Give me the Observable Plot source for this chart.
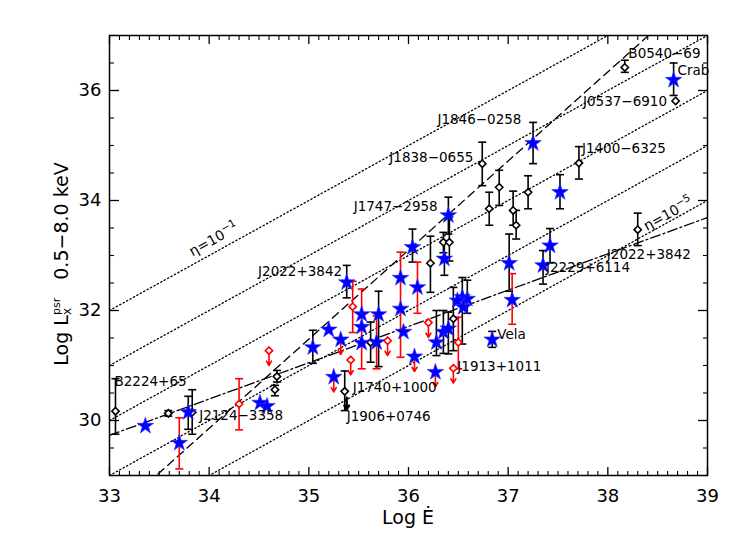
<!DOCTYPE html>
<html><head><meta charset="utf-8">
<script src="https://cdn.jsdelivr.net/npm/d3@7"></script>
<script src="https://cdn.jsdelivr.net/npm/@observablehq/plot@0.6"></script>
<style>body{margin:0;background:#fff;} svg{display:block}</style>
</head><body><div id="chart"></div>
<script>
// ---------- data ----------
const xTickLabels = [33, 34, 35, 36, 37, 38, 39];
const yTickLabels = [30, 32, 34, 36];
const etaExponents = [-1, -2, -3, -4, -5];          // L = eta * Edot
const dashedFit = [1.62, 33.47, 29.0];             // slope, x0, y0
const dashDotFit = [0.66, 33.0, 29.73];            // slope, x0, y0

// black diamonds: [logEdot, logLx, lo, hi]
const blackDiamonds = [
  [33.06,30.17,29.75,30.76],[33.59,30.13,30.08,30.18],[33.83,30.15,29.75,30.56],
  [34.66,30.56,30.45,30.64],[34.68,30.80,30.70,30.91],[35.36,30.53,30.18,30.90],
  [35.62,31.42,31.06,31.79],[36.22,32.86,32.33,33.35],[36.35,33.24,33.05,33.42],
  [36.41,33.24,32.90,33.70],[36.45,31.85,31.27,32.42],[36.74,34.67,34.27,35.06],
  [36.81,33.85,33.55,34.15],[36.91,34.24,33.91,34.55],[37.05,33.82,33.55,34.17],
  [37.08,33.55,33.30,33.82],[37.20,34.15,33.85,34.45],[37.71,34.68,34.39,34.98],
  [38.17,36.42,36.33,36.55],[38.30,33.47,33.18,33.77],[38.68,35.81,null,null]
];
// red diamonds with error bars
const redDiamonds = [[34.30,30.30,29.83,30.76],[35.44,32.07,31.60,32.53],[36.50,31.42,30.94,31.88]];
// red diamonds, upper limits
const redLimits = [[34.60,31.27],[35.42,31.10],[35.79,31.45],[36.20,31.78],[36.45,30.95]];
// blue stars with black error bars
const starsBlackErr = [
  [33.79,30.15,29.84,30.44],[35.04,31.33,31.04,31.64],[35.38,32.51,32.23,32.82],
  [35.70,31.93,30.98,32.35],[36.04,33.15,32.88,33.48],[36.40,33.73,33.39,34.06],
  [36.36,32.94,32.64,33.27],[36.28,31.42,31.18,32.00],[36.35,31.61,31.22,32.00],
  [36.40,31.67,31.21,31.97],[36.54,32.24,31.39,32.60],[36.59,32.21,31.95,32.55],
  [36.84,31.47,31.33,31.62],[37.01,32.86,32.35,33.39],[37.25,35.04,34.67,35.42],
  [37.35,32.82,32.48,33.09],[37.42,33.18,32.87,33.49],[37.52,34.15,33.85,34.47],
  [38.66,36.19,35.91,36.50]
];
// blue stars with red error bars
const starsRedErr = [
  [33.70,29.59,29.12,30.05],[35.53,31.93,30.94,32.39],[35.68,31.42,30.94,31.90],
  [35.92,32.59,31.15,33.06],[36.09,32.42,31.95,32.88],[37.04,32.19,31.75,32.67]
];
// blue stars without error bars
const starsPlain = [[33.36,29.90],[34.51,30.32],[34.58,30.26],[35.20,31.65],[35.53,31.70],
  [35.53,31.41],[35.92,32.03],[35.95,31.61],[36.49,32.18],[36.55,32.06]];
// blue stars that are red upper limits
const starsRedLimit = [[35.25,30.79],[35.32,31.47],[36.06,31.16],[36.27,30.88]];
// black upper limit
const blackLimits = [[35.38,30.45]];

// labels: [text, logEdot, logLx, anchor]
const pulsarLabels = [
  ["B0540−69",38.206,36.67,"start"],["Crab",38.70,36.36,"start"],["J0537−6910",38.594,35.79,"end"],
  ["J1846−0258",36.29,35.47,"start"],["J1838−0655",36.651,34.78,"end"],["J1400−6325",37.74,34.95,"start"],
  ["J1747−2958",35.45,33.88,"start"],["J2022+3842",35.334,32.70,"end"],["J2022+3842",37.99,33.02,"start"],
  ["J2229+6114",37.38,32.78,"start"],["Vela",36.89,31.56,"start"],["J1913+1011",36.49,30.97,"start"],
  ["J1740+1000",35.44,30.60,"start"],["J1906+0746",35.38,30.07,"start"],["J2124−3358",33.90,30.08,"start"],
  ["B2224+65",33.05,30.71,"start"]
];
const etaLabels = [["η=10", "−1", 34.05, 33.29], ["η=10", "−5", 38.61, 33.75]];

// ---------- derived tables ----------
const xDomain = [33, 39], yDomain = [29, 37];
const etaLines = etaExponents.flatMap(e => xDomain.map(x => ({x, y: x + e, e})));
const fitLine = (f, name) => xDomain.map(x => ({x, y: f[2] + f[0] * (x - f[1]), name}));
const dashed = fitLine(dashedFit, "dashed");
const dashDot = fitLine(dashDotFit, "dashdot");

const row = (a, color) => ({x: a[0], y: a[1], lo: a[2], hi: a[3], color});
const errRows = [
  ...blackDiamonds.filter(a => a[2] != null).map(a => row(a, "black")),
  ...starsBlackErr.map(a => row(a, "black")),
  ...redDiamonds.map(a => row(a, "#ff0000")),
  ...starsRedErr.map(a => row(a, "#ff0000"))
];
const caps = errRows.flatMap(d => [{x: d.x, y: d.lo, color: d.color}, {x: d.x, y: d.hi, color: d.color}]);
const redArrows = [...redLimits, ...starsRedLimit].map(a => ({x: a[0], y: a[1]}));
const blackArrows = blackLimits.map(a => ({x: a[0], y: a[1]}));
const stars = [...starsBlackErr, ...starsRedErr, ...starsPlain, ...starsRedLimit].map(a => ({x: a[0], y: a[1]}));
const bDiam = blackDiamonds.map(a => ({x: a[0], y: a[1]}));
const rDiam = [...redDiamonds, ...redLimits].map(a => ({x: a[0], y: a[1]}));
const labels = pulsarLabels.map(a => ({text: a[0], x: a[1], y: a[2], anchor: a[3]}));
const etaText = etaLabels.map(a => ({base: a[0], exp: a[1], x: a[2], y: a[3]}));

const xMinor = d3.range(330, 391).map(v => v / 10).filter(v => Math.abs(v - Math.round(v)) > 1e-6);
const yMinor = d3.range(29, 37.01, 0.5).filter(v => !yTickLabels.includes(v));

const capSymbol = {draw(ctx, size) { const w = Math.sqrt(size / Math.PI); ctx.moveTo(-w, 0); ctx.lineTo(w, 0); }};
const FONT = "DejaVu Sans";
const none = () => "";

const chart = Plot.plot({
  width: 740, height: 545,
  marginLeft: 109, marginRight: 33, marginTop: 35, marginBottom: 70,
  x: {domain: xDomain},
  y: {domain: yDomain},
  style: {fontFamily: FONT, background: "white", color: "black"},
  marks: [
    Plot.line(etaLines, {x: "x", y: "y", z: "e", stroke: "black", strokeWidth: 1.3, strokeDasharray: "1.3,2.6", clip: true}),
    Plot.line(dashed, {x: "x", y: "y", stroke: "black", strokeWidth: 1.3, strokeDasharray: "8,5", clip: true}),
    Plot.line(dashDot, {x: "x", y: "y", stroke: "black", strokeWidth: 1.3, strokeDasharray: "10,3,2,3", clip: true}),
    Plot.ruleX(errRows, {x: "x", y1: "lo", y2: "hi", stroke: "color", strokeWidth: 1.6}),
    Plot.dot(caps, {x: "x", y: "y", symbol: capSymbol, r: 4, stroke: "color", strokeWidth: 1.6, fill: "none"}),
    Plot.arrow(redArrows, {x1: "x", y1: "y", x2: "x", y2: d => d.y - 0.27, insetStart: 4, headLength: 6, headAngle: 60, stroke: "#ff0000", strokeWidth: 1.6}),
    Plot.arrow(blackArrows, {x1: "x", y1: "y", x2: "x", y2: d => d.y - 0.25, insetStart: 2, headLength: 7, headAngle: 60, stroke: "black", strokeWidth: 2.4}),
    Plot.dot(bDiam, {x: "x", y: "y", symbol: "diamond2", r: 3.3, stroke: "black", strokeWidth: 1.6, fill: "white"}),
    Plot.dot(rDiam, {x: "x", y: "y", symbol: "diamond2", r: 3.3, stroke: "#ff0000", strokeWidth: 1.6, fill: "white"}),
    Plot.dot(stars, {x: "x", y: "y", symbol: "star", r: 5.2, fill: "#0000ff", stroke: "#2a2aff", strokeWidth: 0.6}),
    Plot.text(labels.filter(d => d.anchor === "start"), {x: "x", y: "y", text: "text", textAnchor: "start", fontSize: 13.5, fill: "black"}),
    Plot.text(labels.filter(d => d.anchor === "end"), {x: "x", y: "y", text: "text", textAnchor: "end", fontSize: 13.5, fill: "black"}),
    Plot.frame({stroke: "black", strokeWidth: 1.5}),
    Plot.axisX(xTickLabels, {anchor: "bottom", tickSize: -8, tickPadding: 22, fontSize: 18, label: null, tickFormat: d => String(d), strokeWidth: 1.3}),
    Plot.axisX(xMinor, {anchor: "bottom", tickSize: -4, label: null, tickFormat: none, strokeWidth: 1.1}),
    Plot.axisX(xTickLabels, {anchor: "top", tickSize: -8, label: null, tickFormat: none, strokeWidth: 1.3}),
    Plot.axisX(xMinor, {anchor: "top", tickSize: -4, label: null, tickFormat: none, strokeWidth: 1.1}),
    Plot.axisY(yTickLabels, {anchor: "left", tickSize: -10, tickPadding: 18, fontSize: 18, label: null, tickFormat: d => String(d), strokeWidth: 1.3}),
    Plot.axisY(yMinor, {anchor: "left", tickSize: -5, label: null, tickFormat: none, strokeWidth: 1.1}),
    Plot.axisY(yTickLabels, {anchor: "right", tickSize: -10, label: null, tickFormat: none, strokeWidth: 1.3}),
    Plot.axisY(yMinor, {anchor: "right", tickSize: -5, label: null, tickFormat: none, strokeWidth: 1.1})
  ]
});
document.getElementById("chart").appendChild(chart);

const svg = d3.select(chart);
// eta labels with real superscripts, placed through the plot's scales
const sx = chart.scale("x"), sy = chart.scale("y");
for (const d of etaText) {
  const t = svg.append("text")
    .attr("transform", `translate(${sx.apply(d.x)},${sy.apply(d.y)}) rotate(-29)`)
    .attr("text-anchor", "middle").attr("dy", "0.35em")
    .attr("font-family", FONT).attr("font-size", 14).attr("fill", "black");
  t.append("tspan").text(d.base);
  t.append("tspan").attr("font-size", 10.5).attr("dy", -6).text(d.exp);
}
// axis titles
svg.append("text").attr("x", 408).attr("y", 524).attr("text-anchor", "middle")
  .attr("font-family", FONT).attr("font-size", 19).attr("fill", "black").text("Log Ė");
const yt = svg.append("text").attr("transform", "translate(68,264) rotate(-90)")
  .attr("text-anchor", "middle").attr("font-family", FONT).attr("font-size", 19).attr("fill", "black");
yt.append("tspan").text("Log L");
yt.append("tspan").attr("font-size", 12).attr("dy", 3).text("x");
yt.append("tspan").attr("font-size", 11).attr("dx", -7).attr("dy", -11).text("psr");
yt.append("tspan").attr("dx", 18).attr("dy", 8).text("0.5−8.0 keV");
</script></body></html>
